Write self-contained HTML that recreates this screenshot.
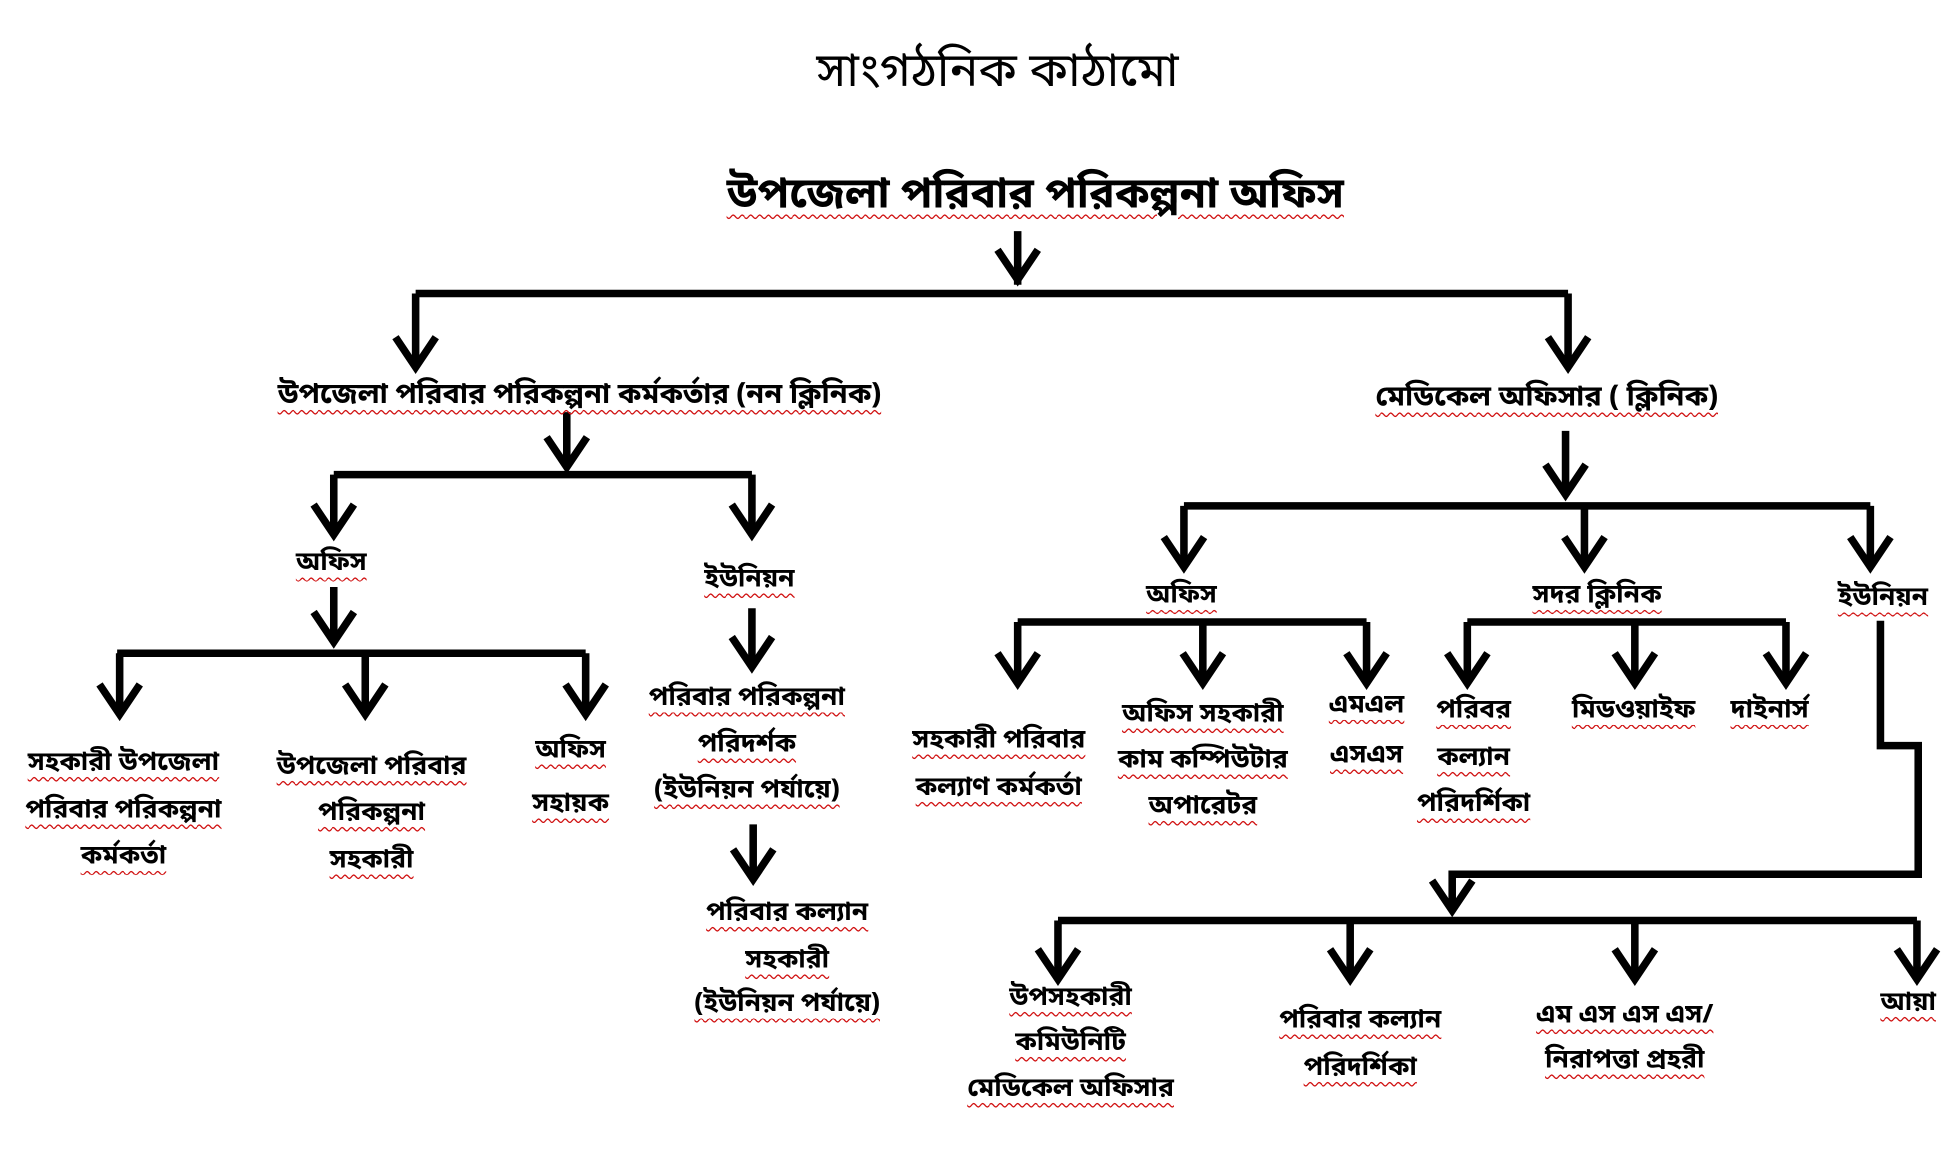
<!DOCTYPE html>
<html><head><meta charset="utf-8"><style>
html,body{margin:0;padding:0;background:#fff;width:1956px;height:1149px;overflow:hidden}
#c{position:absolute;left:0;top:0;width:1553px;height:920px;transform:scale(1.2595,1.249);transform-origin:0 0}
svg{position:absolute;left:0;top:0}
.t{position:absolute;white-space:nowrap;transform:translate(-50%,-50%);line-height:1;font-family:"Noto Sans Bengali","Lohit Bengali","FreeSans","Liberation Sans",sans-serif;font-size:21px;font-weight:bold;color:#000;text-decoration:underline wavy #d01010;text-decoration-thickness:1px;text-underline-offset:5px}
.n{text-decoration:none;font-weight:normal}
</style></head><body><div id="c">
<svg width="1553" height="920" viewBox="0 0 1553 920" fill="none" stroke="#000" stroke-width="6" stroke-linejoin="miter">
<g>
<path d="M808 185V228M330 235H1245M330 235V290M1245 235V290"/>
<path d="M450 330V372M265 380H597M265 380V424M597 380V424"/>
<path d="M265 470V512M93 523H465M95 523V568M290 523V568M465 523V568"/>
<path d="M597 487V532M598 660V702"/>
<path d="M1243 345V395M940 405H1485M940 405V450M1258 405V450M1485 405V450"/>
<path d="M808 498H1085M808 498V543M955 498V543M1085 498V543"/>
<path d="M1165 498H1418M1165 498V543M1298 498V543M1418 498V543"/>
<path d="M1493 497V597H1523V700H1153V728"/>
<path d="M840 737H1522M840 737V780M1072 737V780M1298 737V780M1522 737V780"/>
</g>
<g stroke-width="6">
<path d="M792 200L808 224L824 200"/>
<path d="M314 270L330 294L346 270M1229 270L1245 294L1261 270"/>
<path d="M434 350L450 374L466 350"/>
<path d="M249 404L265 428L281 404M581 404L597 428L613 404"/>
<path d="M249 490L265 514L281 490"/>
<path d="M79 548L95 572L111 548M274 548L290 572L306 548M449 548L465 572L481 548"/>
<path d="M581 510L597 534L613 510M582 680L598 704L614 680"/>
<path d="M1227 372L1243 396L1259 372"/>
<path d="M924 430L940 454L956 430M1242 430L1258 454L1274 430M1469 430L1485 454L1501 430"/>
<path d="M792 523L808 547L824 523M939 523L955 547L971 523M1069 523L1085 547L1101 523"/>
<path d="M1149 523L1165 547L1181 523M1282 523L1298 547L1314 523M1402 523L1418 547L1434 523"/>
<path d="M1137 705L1153 729L1169 705"/>
<path d="M824 760L840 784L856 760M1056 760L1072 784L1088 760M1282 760L1298 784L1314 760M1506 760L1522 784L1538 760"/>
</g>
</svg>
<div class="t n" style="left:792px;top:60px;font-size:38px">সাংগঠনিক কাঠামো</div>
<div class="t" style="left:822px;top:158px;font-size:34px">উপজেলা পরিবার পরিকল্পনা অফিস</div>
<div class="t" style="left:460px;top:318px;font-size:23px">উপজেলা পরিবার পরিকল্পনা কর্মকর্তার (নন ক্লিনিক)</div>
<div class="t" style="left:1228px;top:320px;font-size:23px">মেডিকেল অফিসার ( ক্লিনিক)</div>
<div class="t" style="left:263px;top:452px">অফিস</div>
<div class="t" style="left:595px;top:465px">ইউনিয়ন</div>
<div class="t" style="left:98px;top:612px">সহকারী উপজেলা</div>
<div class="t" style="left:98px;top:650px">পরিবার পরিকল্পনা</div>
<div class="t" style="left:98px;top:687px">কর্মকর্তা</div>
<div class="t" style="left:295px;top:615px">উপজেলা পরিবার</div>
<div class="t" style="left:295px;top:652px">পরিকল্পনা</div>
<div class="t" style="left:295px;top:690px">সহকারী</div>
<div class="t" style="left:453px;top:602px">অফিস</div>
<div class="t" style="left:453px;top:645px">সহায়ক</div>
<div class="t" style="left:593px;top:560px">পরিবার পরিকল্পনা</div>
<div class="t" style="left:593px;top:597px">পরিদর্শক</div>
<div class="t" style="left:593px;top:634px">(ইউনিয়ন পর্যায়ে)</div>
<div class="t" style="left:625px;top:732px">পরিবার কল্যান</div>
<div class="t" style="left:625px;top:770px">সহকারী</div>
<div class="t" style="left:625px;top:805px">(ইউনিয়ন পর্যায়ে)</div>
<div class="t" style="left:938px;top:478px">অফিস</div>
<div class="t" style="left:1268px;top:478px">সদর ক্লিনিক</div>
<div class="t" style="left:1495px;top:480px">ইউনিয়ন</div>
<div class="t" style="left:793px;top:594px">সহকারী পরিবার</div>
<div class="t" style="left:793px;top:632px">কল্যাণ কর্মকর্তা</div>
<div class="t" style="left:955px;top:573px">অফিস সহকারী</div>
<div class="t" style="left:955px;top:610px">কাম কম্পিউটার</div>
<div class="t" style="left:955px;top:647px">অপারেটর</div>
<div class="t" style="left:1085px;top:566px">এমএল</div>
<div class="t" style="left:1085px;top:606px">এসএস</div>
<div class="t" style="left:1170px;top:570px">পরিবর</div>
<div class="t" style="left:1170px;top:608px">কল্যান</div>
<div class="t" style="left:1170px;top:645px">পরিদর্শিকা</div>
<div class="t" style="left:1297px;top:570px">মিডওয়াইফ</div>
<div class="t" style="left:1405px;top:570px">দাইনার্স</div>
<div class="t" style="left:850px;top:800px">উপসহকারী</div>
<div class="t" style="left:850px;top:836px">কমিউনিটি</div>
<div class="t" style="left:850px;top:873px">মেডিকেল অফিসার</div>
<div class="t" style="left:1080px;top:818px">পরিবার কল্যান</div>
<div class="t" style="left:1080px;top:856px">পরিদর্শিকা</div>
<div class="t" style="left:1290px;top:814px">এম এস এস এস/</div>
<div class="t" style="left:1290px;top:850px">নিরাপত্তা প্রহরী</div>
<div class="t" style="left:1515px;top:804px">আয়া</div>
</div></body></html>
